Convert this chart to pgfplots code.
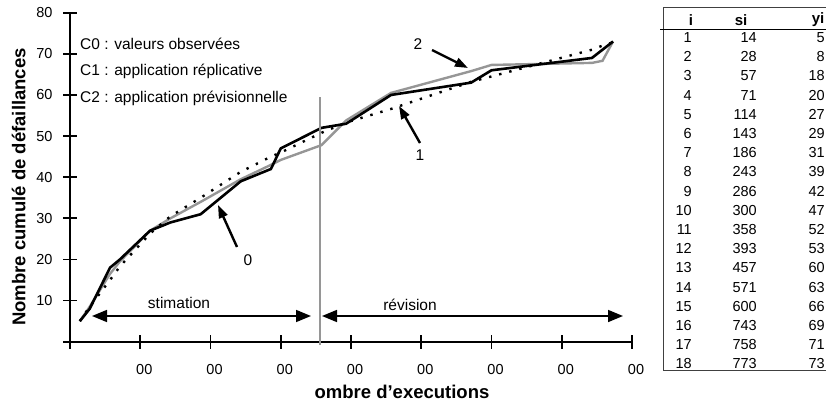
\documentclass[border=0pt]{standalone}
\usepackage{fontspec}
\setmainfont{Liberation Sans}
\usepackage{pgfplots}
\pgfplotsset{compat=1.18}
\usetikzlibrary{arrows.meta}
\definecolor{lgrey}{RGB}{150,150,150}
\begin{document}
\begin{tikzpicture}
\begin{axis}[
  scale only axis, width=562bp, height=329bp,
  xmin=0, xmax=800, ymin=0, ymax=80,
  axis lines*=left,
  axis line style={line width=2.2bp},
  tick align=center, major tick length=14bp,
  tick style={line width=1.8bp, black},
  xtick={0,100,200,300,400,500,600,700,800},
  xticklabels={,\phantom{1}00,\phantom{1}00,\phantom{1}00,\phantom{1}00,\phantom{1}00,\phantom{1}00,\phantom{1}00,\phantom{1}00},
  ytick={0,10,20,30,40,50,60,70,80},
  yticklabels={,10,20,30,40,50,60,70,80},
  ticklabel style={font=\fontsize{14.5bp}{16bp}\selectfont},
  xticklabel style={yshift=-12bp},
  yticklabel style={xshift=-7bp},
  /pgf/number format/assume math mode=true,
  clip=false,
]
% C2 : application previsionnelle (grey)
\addplot[lgrey, line width=2.4bp] coordinates {(14,5)(28,8.5)(57,16.5)(71,19.5)(114,27)(143,30)(186,34)(243,39.5)(286,43)(300,44.2)(358,47.8)(393,53.8)(457,60.5)(571,65.8)(600,67.3)(743,67.8)(758,68.3)(773,73)};
% C1 : application replicative (dotted)
\addplot[black, line width=2.4bp, dash pattern=on 2.4bp off 8bp] coordinates {(14,5)(28,8.5)(57,15)(71,18.3)(114,26.3)(143,30.5)(186,35)(243,41.3)(286,45)(300,46)(358,50.8)(393,53.3)(457,56.6)(571,63.2)(600,64.5)(743,71)(758,72)(773,72.8)};
% C0 : valeurs observees (black)
\addplot[black, line width=2.6bp] coordinates {(14,5)(28,8)(57,18)(71,20)(114,27)(143,29)(186,31)(243,39)(286,42)(300,47)(358,52)(393,53)(457,60)(571,63)(600,66)(743,69)(758,71)(773,73)};
% separation estimation / revision
\addplot[lgrey, line width=2bp] coordinates {(356,-0.8)(356,59.6)};
\end{axis}
\begin{scope}[shift={(-70bp,341.7bp)}, x=1bp, y=-1bp]
  \path[use as bounding box] (0,0) rectangle (826,401);
  \begin{scope}[font=\fontsize{15.5bp}{18bp}\selectfont]
    \node[anchor=west, inner sep=0] at (80,44) {C0 : valeurs observées};
    \node[anchor=west, inner sep=0] at (80,71) {C1 : application réplicative};
    \node[anchor=west, inner sep=0] at (80,98.5) {C2 : application prévisionnelle};
    \node[inner sep=0] at (248,260) {0};
    \node[inner sep=0] at (420,155) {1};
    \node[inner sep=0] at (418,44) {2};
    \node[inner sep=0] at (179,303) {stimation};
    \node[inner sep=0] at (410,305) {révision};
  \end{scope}
  \draw[line width=2.4bp, -{Triangle[length=13bp,width=9bp]}] (237,247) -- (218,205);
  \draw[line width=2.4bp, -{Triangle[length=13bp,width=9bp]}] (420,143) -- (399,106);
  \draw[line width=2.4bp, -{Triangle[length=13bp,width=9bp]}] (432,50) -- (468,68);
  \draw[line width=1.6bp, {Triangle[length=15bp,width=12bp]}-{Triangle[length=15bp,width=12bp]}] (92,316) -- (311,316);
  \draw[line width=1.6bp, {Triangle[length=15bp,width=12bp]}-{Triangle[length=15bp,width=12bp]}] (322,316) -- (623,316);
  % axis titles
  \node[font=\bfseries\fontsize{18.5bp}{20bp}\selectfont, anchor=base, inner sep=0] at (402,398) {ombre d’executions};
  \node[font=\bfseries\fontsize{18.5bp}{20bp}\selectfont, anchor=base, rotate=90, inner sep=0] at (25.5,187) {Nombre cumulé de défaillances};
  % table
  \draw[black!75, line width=0.9bp] (663,7) -- (826,7);
  \draw[black!75, line width=0.9bp] (663,7) -- (663,370);
  \draw[black, line width=1.6bp] (660,29.5) -- (826,29.5);
  \draw[black!75, line width=0.9bp] (663,370) -- (826,370);
  \begin{scope}[font=\bfseries\fontsize{15bp}{17bp}\selectfont]
    \node[inner sep=0] at (691,20) {i};
    \node[inner sep=0] at (741,20) {si};
    \node[inner sep=0] at (818,20) {yi};
  \end{scope}
  \begin{scope}[font=\fontsize{14.5bp}{16bp}\selectfont]
    \foreach \k/\s/\v in {1/14/5,2/28/8,3/57/18,4/71/20,5/114/27,6/143/29,7/186/31,8/243/39,9/286/42,10/300/47,11/358/52,12/393/53,13/457/60,14/571/63,15/600/66,16/743/69,17/758/71,18/773/73}{
      \pgfmathsetmacro{\yy}{37.5+(\k-1)*19.2}
      \node[anchor=east, inner sep=0] at (692,\yy) {\k};
      \node[anchor=east, inner sep=0] at (757,\yy) {\s};
      \node[anchor=east, inner sep=0] at (825,\yy) {\v};
    }
  \end{scope}
\end{scope}
\end{tikzpicture}
\end{document}
